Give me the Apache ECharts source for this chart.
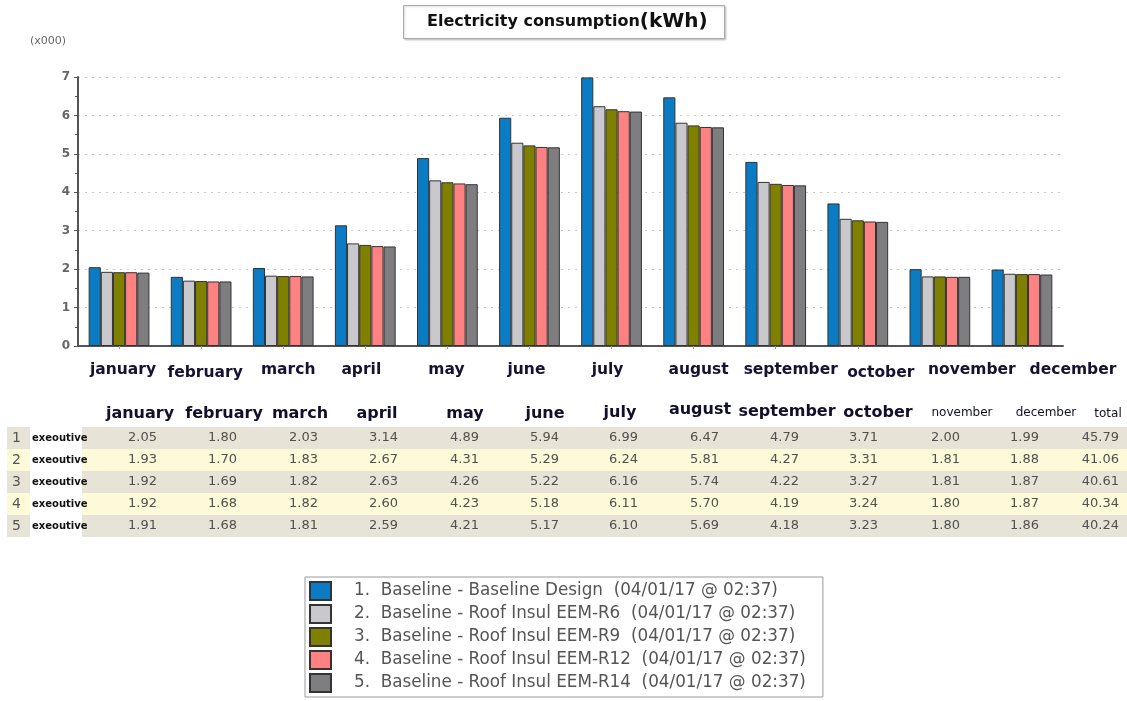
<!DOCTYPE html>
<html>
<head>
<meta charset="utf-8">
<title>Electricity consumption</title>
<script src="https://cdn.jsdelivr.net/npm/echarts@6/dist/echarts.min.js"></script>
<style>
  html, body { margin: 0; padding: 0; background: #fff; }
  #main { width: 1127px; height: 701px; }
</style>
</head>
<body>
<div id="main"></div>
<script>
// months on the x axis
const months = ['january', 'february', 'march', 'april', 'may', 'june',
    'july', 'august', 'september', 'october', 'november', 'december']

const seriesNames = [
    '1.  Baseline - Baseline Design  (04/01/17 @ 02:37)',
    '2.  Baseline - Roof Insul EEM-R6  (04/01/17 @ 02:37)',
    '3.  Baseline - Roof Insul EEM-R9  (04/01/17 @ 02:37)',
    '4.  Baseline - Roof Insul EEM-R12  (04/01/17 @ 02:37)',
    '5.  Baseline - Roof Insul EEM-R14  (04/01/17 @ 02:37)'
]

// values in kWh x000
const baseline = [2.05, 1.80, 2.03, 3.14, 4.89, 5.94, 6.99, 6.47, 4.79, 3.71, 2.00, 1.99]
const roofR6 = [1.93, 1.70, 1.83, 2.67, 4.31, 5.29, 6.24, 5.81, 4.27, 3.31, 1.81, 1.88]
const roofR9 = [1.92, 1.69, 1.82, 2.63, 4.26, 5.22, 6.16, 5.74, 4.22, 3.27, 1.81, 1.87]
const roofR12 = [1.92, 1.68, 1.82, 2.60, 4.23, 5.18, 6.11, 5.70, 4.19, 3.24, 1.80, 1.87]
const roofR14 = [1.91, 1.68, 1.81, 2.59, 4.21, 5.17, 6.10, 5.69, 4.18, 3.23, 1.80, 1.86]
const totals = [45.79, 41.06, 40.61, 40.34, 40.24]
const rowLabel = 'exeoutive'
const yTicks = [0, 1, 2, 3, 4, 5, 6, 7]

const colors = ['#0b7bc3', '#c9c9cd', '#7f7f00', '#ff8282', '#7e7e80']
const allSeries = [baseline, roofR6, roofR9, roofR12, roofR14]

// x label nudges (px right / down) - the original labels aren't quite centred
const labelShift = [4, 4, 5, -4, -1, -3, -4, 5, 15, 23, 32, 51]
const labelDrop = [0, 3, 0, 0, 0, 0, -1, 0, 0, 3, 0, 0]

// table layout (x of header centre / value right edge)
const headX = [140, 224, 300, 377, 465, 545, 620, 700, 787, 878, 962, 1046, 1108]
const headY = [414, 414, 414, 414, 414, 414, 413, 410, 412, 413, 413, 413, 414]
const valX = [157, 237, 318, 398, 479, 559, 638, 719, 799, 878, 960, 1039, 1119]
const tableTop = 427
const rowH = 22

const graphics = []

// table rows
allSeries.forEach((vals, r) => {
    const y = tableTop + r * rowH
    graphics.push({
        type: 'rect', left: 7, top: y,
        shape: { width: 1120, height: rowH },
        style: { fill: r % 2 === 0 ? '#e7e3d7' : '#fcfad8' }, silent: true
    })
    graphics.push({
        type: 'rect', left: 30, top: y,
        shape: { width: 52, height: rowH },
        style: { fill: '#ffffff' }, silent: true
    })
    graphics.push({
        type: 'text', left: 12, top: y + 4,
        style: { text: String(r + 1), fill: '#555', font: '14px "DejaVu Sans"' }
    })
    graphics.push({
        type: 'text', left: 32, top: y + 6,
        style: { text: rowLabel, fill: '#111', font: 'bold 10px "DejaVu Sans"' }
    })
    vals.concat([totals[r]]).forEach((v, c) => {
        graphics.push({
            type: 'text', x: valX[c], y: y + rowH / 2,
            style: {
                text: v.toFixed(2), fill: '#505050', font: '13px "DejaVu Sans"',
                align: 'right', verticalAlign: 'middle'
            }
        })
    })
})

// table header
months.concat(['total']).forEach((m, c) => {
    const small = c >= 10
    graphics.push({
        type: 'text', x: headX[c], y: headY[c],
        style: {
            text: m, fill: '#10102a',
            font: small ? '12px "DejaVu Sans"' : 'bold 16px "DejaVu Sans"',
            align: 'center', verticalAlign: 'middle'
        }
    })
})

graphics.push({
    type: 'text', left: 30, top: 36,
    style: { text: '(x000)', fill: '#666', font: '11px "DejaVu Sans"' }
})

// per-label rich styles for the nudges
const labelRich = {}
labelShift.forEach((s, i) => {
    const d = labelDrop[i]
    labelRich['m' + i] = {
        fontFamily: 'DejaVu Sans',
        fontWeight: 'bold',
        fontSize: 15.5,
        color: '#141432',
        padding: [d > 0 ? d : 0, s < 0 ? -2 * s : 0, d < 0 ? -d : 0, s > 0 ? 2 * s : 0]
    }
})

const myChart = echarts.init(document.getElementById('main'))

const option = {
    animation: false,
    color: colors,
    title: {
        text: '{a|Electricity consumption}{b|(kWh)}',
        left: 403,
        top: 5,
        padding: [7, 17, 7, 24],
        borderColor: '#aaa',
        borderWidth: 1,
        shadowColor: 'rgba(0,0,0,0.2)',
        shadowBlur: 2,
        shadowOffsetX: 1,
        shadowOffsetY: 1,
        backgroundColor: '#fff',
        textStyle: {
            rich: {
                a: { fontFamily: 'DejaVu Sans', fontWeight: 'bold', fontSize: 16, color: '#111' },
                b: { fontFamily: 'DejaVu Sans', fontWeight: 'bold', fontSize: 20, color: '#111' }
            }
        }
    },
    legend: {
        orient: 'vertical',
        left: 305,
        top: 577,
        height: 220,
        padding: [4, 17, 4, 4],
        itemWidth: 21,
        itemHeight: 18,
        itemGap: 3,
        borderColor: '#999',
        borderWidth: 1,
        icon: 'rect',
        textStyle: {
            fontFamily: 'DejaVu Sans',
            fontSize: 16.8,
            lineHeight: 20,
            color: '#555',
            padding: [0, 0, 0, 18]
        },
        data: seriesNames
    },
    grid: {
        left: 78,
        right: 64,
        top: 77,
        bottom: 355,
        containLabel: false
    },
    xAxis: {
        type: 'category',
        data: months,
        axisLine: { lineStyle: { color: '#555', width: 2 } },
        axisTick: { show: true, alignWithLabel: true, length: 3, lineStyle: { color: '#999' } },
        axisLabel: {
            interval: 0,
            margin: 16,
            formatter: (val, idx) => '{m' + idx + '|' + val + '}',
            rich: labelRich
        }
    },
    yAxis: {
        type: 'value',
        min: yTicks[0],
        max: yTicks[yTicks.length - 1],
        interval: 1,
        axisLine: { show: true, lineStyle: { color: '#555', width: 2 } },
        axisTick: { show: true, length: 4, lineStyle: { color: '#555' } },
        minorTick: { show: true, splitNumber: 2, length: 3, lineStyle: { color: '#555' } },
        axisLabel: {
            margin: 8,
            fontFamily: 'DejaVu Sans',
            fontWeight: 'bold',
            fontSize: 12,
            color: '#666'
        },
        splitLine: {
            show: true,
            lineStyle: { color: '#c8c8c8', type: [2, 5], width: 1 }
        }
    },
    series: allSeries.map((vals, i) => ({
        name: seriesNames[i],
        type: 'bar',
        data: vals,
        barGap: '0%',
        barCategoryGap: '26%',
        itemStyle: { color: colors[i], borderColor: '#333', borderWidth: 1 }
    })),
    graphic: graphics
}

myChart.setOption(option)
</script>
</body>
</html>
